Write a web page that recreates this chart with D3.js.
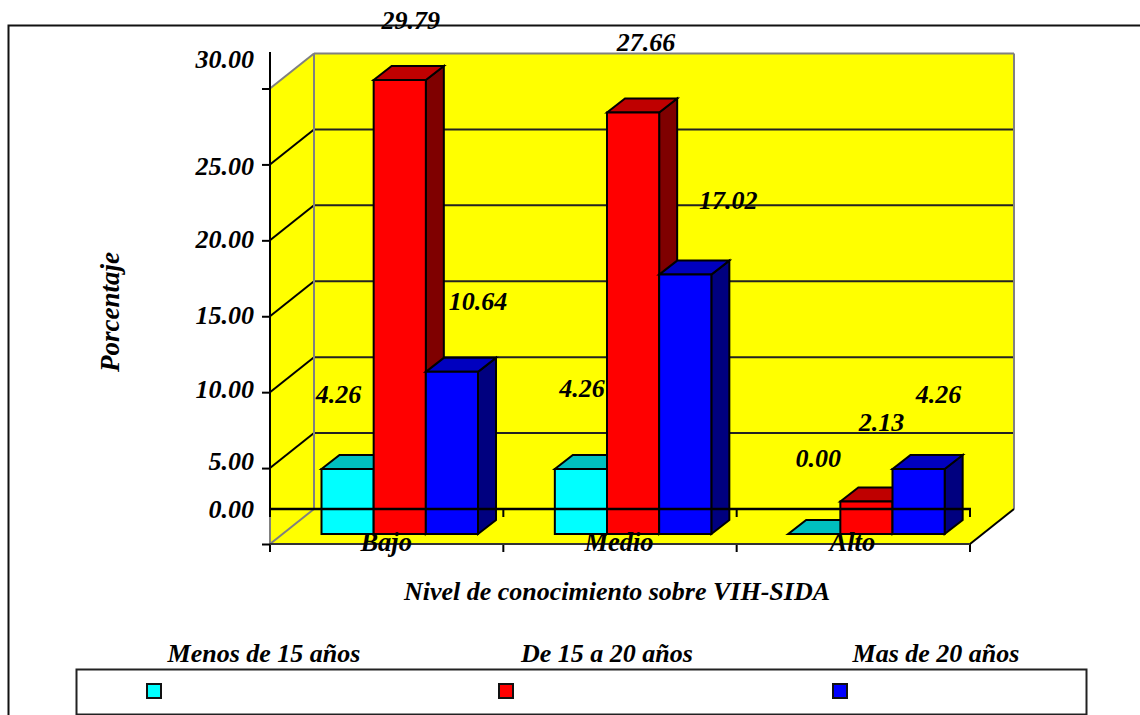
<!DOCTYPE html>
<html><head><meta charset="utf-8">
<script src="https://cdn.jsdelivr.net/npm/d3@7"></script>
<style>
html,body{margin:0;padding:0;background:#fff;overflow:hidden}
text{font-family:"Liberation Serif",serif;font-weight:bold;font-style:italic;fill:#000}
</style></head><body>
<svg id="c" width="1140" height="715"></svg>
<script>
const categories = ["Bajo","Medio","Alto"];
const seriesNames = ["Menos de 15 años","De 15 a 20 años","Mas de 20 años"];
const menos15 = [4.26,4.26,0.00];
const de15a20 = [29.79,27.66,2.13];
const mas20 = [10.64,17.02,4.26];
const yTicks = [0,5,10,15,20,25,30];
const faces = [
 {front:"#00ffff",top:"#00bfbf",side:"#007f7f"},
 {front:"#ff0000",top:"#bf0000",side:"#7f0000"},
 {front:"#0000ff",top:"#0000bf",side:"#00007f"}];
// label displacement from the bar top, as in the source chart
const labelNudge = [
 [[-9,-74],[1,-80],[4,-75]],
 [[11,-59],[13,-69],[15,-79]],
 [[26,-70],[43,-74],[20,-74]]];
const yLabelNudge = {0:-35,5:-7,10:-3,15:-1,20:-1,25:2,30:-29};

const svg = d3.select("#c");
const W = {x0:270,x1:970,y0:544,y1:88.5,dx:44,dy:-35};
const y = d3.scaleLinear().domain([0,30]).range([W.y0,W.y1]);
const yBar = d3.scaleLinear().domain([0,30]).range([534,534-30*15.24]);
const x = d3.scaleBand().domain(categories).range([W.x0,W.x1]);
const bx = d3.scaleBand().domain(d3.range(3)).range([0,156.5]);
const series = [menos15,de15a20,mas20];
const poly=(g,pts,fill,stroke,sw)=>g.append("polygon").attr("points",pts.map(p=>p.join(",")).join(" ")).attr("fill",fill).attr("stroke",stroke).attr("stroke-width",sw).attr("stroke-linejoin","miter");
const line=(g,a,b,c,d,st,sw)=>g.append("line").attr("x1",a).attr("y1",b).attr("x2",c).attr("y2",d).attr("stroke",st).attr("stroke-width",sw);

// outer frame
svg.append("path").attr("d","M8.5,716V25.5H1141").attr("fill","none").attr("stroke","#111").attr("stroke-width",2);

// walls
const wall=svg.append("g");
const {x0,x1,y0,y1,dx,dy}=W;
poly(wall,[[x0,y1],[x0+dx,y1+dy],[x0+dx,y0+dy],[x0,y0]],"#ffff00","none",0);
poly(wall,[[x0+dx,y1+dy],[x1+dx,y1+dy],[x1+dx,y0+dy],[x0+dx,y0+dy]],"#ffff00","none",0);
poly(wall,[[x0,y0],[x0+dx,y0+dy],[x1+dx,y0+dy],[x1,y0]],"#ffff00","none",0);
yTicks.filter(t=>t>0&&t<30).forEach(t=>{
  line(wall,x0,y(t),x0+dx,y(t)+dy,"#000",2);
  line(wall,x0+dx,y(t)+dy,x1+dx,y(t)+dy,"#222",2);
});
line(wall,x0,y(30),x0+dx,y(30)+dy,"#808080",2);
line(wall,x0+dx,y(30)+dy,x1+dx,y(30)+dy,"#808080",2);
line(wall,x0+dx,y(30)+dy,x0+dx,y0+dy,"#808080",2);
line(wall,x1+dx,y(30)+dy,x1+dx,y0+dy,"#808080",2);
line(wall,x0,y0,x0+dx,y0+dy,"#808080",2);
line(wall,x0,y0-27,x0,y0,"#808080",2);
line(wall,x1,y0,x1+dx,y0+dy,"#000",2);

// bars
const depthX=18, depthY=-14, floorX=51.5;
const bars=svg.append("g");
categories.forEach((c,ci)=>{
  series.forEach((s,si)=>{
    const v=s[ci];
    const l=x(c)+floorX+bx(si), r=l+bx.bandwidth();
    const b=yBar(0), t=yBar(v);
    const g=bars.append("g");
    poly(g,[[r,b],[r+depthX,b+depthY],[r+depthX,t+depthY],[r,t]],faces[si].side,"#000",2);
    poly(g,[[l,t],[l+depthX,t+depthY],[r+depthX,t+depthY],[r,t]],faces[si].top,"#000",2);
    if(v>0) poly(g,[[l,t],[r,t],[r,b],[l,b]],faces[si].front,"#000",2);
  });
});

// front axes
const xAxisLine=(yy)=>{
  const g=svg.append("g").attr("transform",`translate(0,${yy})`)
    .call(d3.axisBottom(x).tickValues([]).tickSize(0));
  g.select(".domain").remove();
  [x0,...categories.map(c=>x(c)+x.bandwidth())].forEach(px=>line(g,px,0,px,8,"#000",2));
  return g;
};
xAxisLine(y(0)+dy);
xAxisLine(y(0));
line(svg,x0,y(0)+dy,x1+1,y(0)+dy,"#000",2.4);
line(svg,x0,y(0),x1,y(0),"#333",2);
line(svg,x0,52,x0,y(0)+dy+8,"#000",2);

const ya=svg.append("g").attr("transform",`translate(${x0},0)`)
  .call(d3.axisLeft(y).tickValues(yTicks).tickSize(8).tickFormat(d3.format(".2f")));
ya.select(".domain").remove();
ya.selectAll(".tick line").attr("stroke","#000").attr("stroke-width",2);
ya.selectAll(".tick text")
  .attr("x",-16).attr("dy",null)
  .attr("y",d=>yLabelNudge[d]+8)
  .attr("text-anchor","end")
  .style("font-family",'"Liberation Serif",serif').style("font-size","26px");

// category labels
svg.append("g").selectAll("text").data(categories).join("text")
  .attr("x",(d,i)=>x(d)+x.bandwidth()/2-(i?1:0.5)).attr("y",y(0)+7).attr("text-anchor","middle").attr("font-size",26.5).text(d=>d);

// value labels
const vl=svg.append("g");
series.forEach((s,si)=>s.forEach((v,ci)=>{
  const n=labelNudge[si][ci];
  vl.append("text").attr("x",x(categories[ci])+floorX+bx(si)+bx.bandwidth()/2+n[0])
    .attr("y",yBar(v)+n[1]+8).attr("text-anchor","middle").attr("font-size",26).text(v.toFixed(2));
}));

// titles
svg.append("text").attr("transform","translate(118.5,312) rotate(-90)").attr("text-anchor","middle").attr("font-size",27).text("Porcentaje");
svg.append("text").attr("x",617).attr("y",600).attr("text-anchor","middle").attr("font-size",26).text("Nivel de conocimiento sobre VIH-SIDA");

// legend
svg.append("rect").attr("x",76.5).attr("y",669.5).attr("width",1010).attr("height",45).attr("fill","#fff").attr("stroke","#222").attr("stroke-width",2);
const legX=d3.scaleOrdinal().domain(seriesNames).range([147,499,833]);
const legT=d3.scaleOrdinal().domain(seriesNames).range([264,607,936]);
seriesNames.forEach((n,i)=>{
  svg.append("rect").attr("x",legX(n)).attr("y",684).attr("width",14).attr("height",14).attr("fill",faces[i].front).attr("stroke","#111").attr("stroke-width",2);
  svg.append("text").attr("x",legT(n)).attr("y",662).attr("text-anchor","middle").attr("font-size",26).text(n);
});
</script></body></html>
